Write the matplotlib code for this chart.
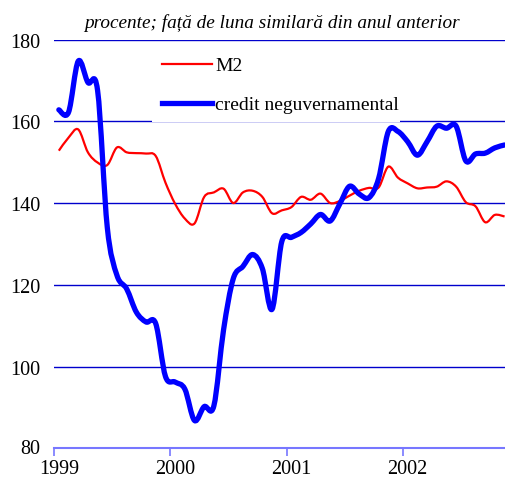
import numpy as np
import matplotlib
matplotlib.use("Agg")
import matplotlib.pyplot as plt
from matplotlib.path import Path
from matplotlib.patches import PathPatch, Rectangle
from matplotlib.lines import Line2D

plt.rc('font', family="Liberation Serif")

# monthly values, Jan 1999 .. Nov 2002
m2 = [152.8, 156.0, 158.0, 152.4, 149.9, 149.3, 153.6, 152.4, 152.2, 152.1,
      151.5, 145.0, 139.8, 136.2, 135.0, 141.5, 142.6, 143.5, 140.0, 142.6,
      143.0, 141.5, 137.5, 138.2, 139.0, 141.5, 140.8, 142.3, 140.0, 140.5,
      141.8, 143.0, 143.7, 143.8, 148.9, 146.2, 144.8, 143.6, 143.8, 144.0,
      145.3, 144.0, 140.2, 139.2, 135.3, 137.1, 136.7]
credit = [162.8, 162.2, 174.7, 169.5, 167.5, 134.0, 122.3, 119.0, 113.3, 110.9,
          110.5, 97.6, 96.2, 94.5, 86.8, 90.2, 90.4, 109.0, 121.5, 124.5,
          127.4, 124.0, 114.0, 130.5, 131.6, 132.8, 134.9, 137.2, 135.6, 139.8,
          144.1, 142.2, 141.3, 146.0, 157.5, 157.5, 155.0, 151.7, 155.0, 158.8,
          158.3, 158.8, 150.3, 152.0, 152.2, 153.5, 154.2]
years = ["1999", "2000", "2001", "2002"]
yticks = [80, 100, 120, 140, 160, 180]


def smooth_path(xs, ys):
    # cubic bezier through every point (like excel "smoothed line")
    p = np.column_stack([xs, ys])
    n = len(p)
    verts = [p[0]]
    codes = [Path.MOVETO]
    for i in range(n - 1):
        p0 = p[max(i - 1, 0)]
        p3 = p[min(i + 2, n - 1)]
        c1 = p[i] + (p[i + 1] - p0) / 6.0
        c2 = p[i + 1] - (p3 - p[i]) / 6.0
        verts += [c1, c2, p[i + 1]]
        codes += [Path.CURVE4] * 3
    return Path(verts, codes)


fig = plt.figure(figsize=(5.06, 4.81), dpi=100)
ax = fig.add_axes([54 / 506, 31.7 / 481, 1 - 54 / 506, 408.8 / 481])

x = np.arange(len(m2)) + 0.5
ax.add_patch(PathPatch(smooth_path(x, m2), fill=False, color="#ff0000", lw=1.6, zorder=3))
ax.add_patch(PathPatch(smooth_path(x, credit), fill=False, color="#0000ff", lw=3.8,
                       capstyle="round", joinstyle="round", zorder=4))

ax.set_xlim(0, 452 / 9.69)
ax.set_ylim(80, 180)

for s in ["top", "right", "left"]:
    ax.spines[s].set_visible(False)
ax.spines["bottom"].set_color("#7777ff")
ax.spines["bottom"].set_linewidth(1.5)

ax.set_xticks([0, 12, 24, 36])
ax.set_xticklabels([])
ax.set_xticks([0.5, 12.5, 24.5, 36.5], minor=True)
ax.set_xticklabels(years, minor=True, fontsize=14.5)
ax.tick_params(axis="x", which="major", length=6, width=1.2, color="#7777ff", direction="out")
ax.tick_params(axis="x", which="minor", length=0, pad=8)

ax.set_yticks(yticks[1:])
ax.set_yticklabels([str(v) for v in yticks[1:]], fontsize=14.5)
ax.tick_params(axis="y", length=0, pad=10)
fig.text(40 / 506, 1 - 449.3 / 481, "80", fontsize=14.5, ha="right", va="center")
ax.yaxis.grid(True, color="#0000cc", lw=1.0)
ax.set_axisbelow(True)

# white legend area hiding part of the 160 gridline
ax.add_patch(Rectangle((152 / 506, 1 - 122.5 / 481), 248 / 506, 75 / 481,
                       transform=fig.transFigure, facecolor="white", edgecolor="none", zorder=1.5))

handles = [Line2D([], [], color="#ff0000", lw=1.6),
           Line2D([], [], color="#0000ff", lw=3.8)]
leg = ax.legend(handles, ["M2", "credit neguvernamental"], loc="upper left",
                bbox_to_anchor=(154 / 506, 1 - 50 / 481), bbox_transform=fig.transFigure,
                fontsize=14, frameon=False, handlelength=2.6,
                handletextpad=0.15, labelspacing=1.1, borderpad=0.4, borderaxespad=0)

fig.text(271.5 / 506, 1 - 28.5 / 481, "procente; față de luna similară din anul anterior",
         fontsize=13.9, style="italic", ha="center", va="baseline")

fig.savefig("out.png", dpi=100)
